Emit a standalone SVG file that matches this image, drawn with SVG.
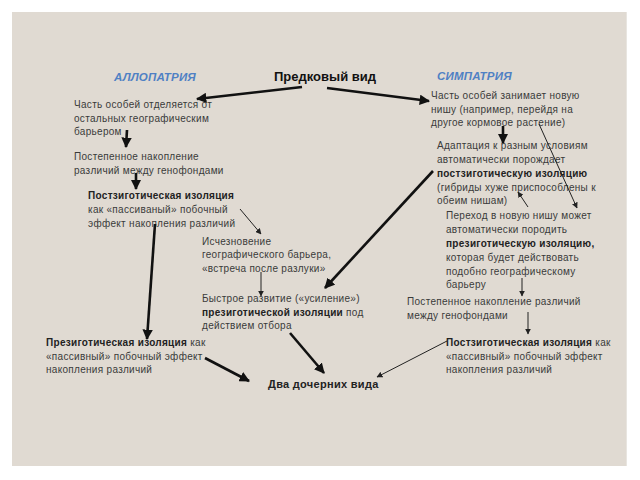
<svg xmlns="http://www.w3.org/2000/svg" width="640" height="480" viewBox="0 0 640 480">
<defs>
<marker id="ah" viewBox="0 0 10 10" refX="9" refY="5" markerWidth="4" markerHeight="4" orient="auto" markerUnits="strokeWidth"><path d="M0,0 L10,5 L0,10 z" fill="#111"/></marker>
<marker id="ahs" viewBox="0 0 10 10" refX="9" refY="5" markerWidth="6" markerHeight="6" orient="auto" markerUnits="strokeWidth"><path d="M0,0 L10,5 L0,10 z" fill="#222"/></marker>
</defs>
<style>
text{font-family:"Liberation Sans",Arial,sans-serif;font-size:10px;fill:#3a3a3a;letter-spacing:0.3px}
.b{font-weight:bold;fill:#222}
.t{font-size:13px;font-weight:bold;fill:#111;letter-spacing:0}
.h{font-size:11.5px;font-weight:bold;font-style:italic;fill:#4f80c4;letter-spacing:0.2px}
.k{stroke:#111;stroke-width:2.6;fill:none;marker-end:url(#ah)}
.n{stroke:#222;stroke-width:1;fill:none;marker-end:url(#ahs)}
</style>
<rect width="640" height="480" fill="#fff"/>
<rect x="12" y="12" width="615" height="454" fill="#e0dad2"/>
<line x1="626.5" y1="12" x2="626.5" y2="466" stroke="#e8e5e0" stroke-width="1"/>

<g id="headers">
<text class="h" x="114" y="81">АЛЛОПАТРИЯ</text>
<text class="h" x="437" y="80">СИМПАТРИЯ</text>
</g>
<g id="ancestor"><text class="t" x="274" y="81">Предковый вид</text></g>

<g id="allo1"><text x="74" y="108">Часть особей отделяется от</text><text x="74" y="122">остальных географическим</text><text x="74" y="135">барьером</text></g>
<g id="allo2"><text x="74" y="160">Постепенное накопление</text><text x="74" y="174">различий между генофондами</text></g>
<g id="allo3"><text class="b" x="88" y="199">Постзиготическая изоляция</text><text x="88" y="213">как «пассиваный» побочный</text><text x="88" y="227">эффект накопления различий</text></g>
<g id="allo4"><text x="202" y="245">Исчезновение</text><text x="202" y="258">географического барьера,</text><text x="202" y="272">«встреча после разлуки»</text></g>
<g id="allo5"><text x="202" y="302">Быстрое развитие («усиление»)</text><text x="202" y="316"><tspan class="b">презиготической изоляции</tspan> под</text><text x="202" y="329">действием отбора</text></g>
<g id="allo6"><text x="46" y="346"><tspan class="b">Презиготическая изоляция</tspan> как</text><text x="46" y="360">«пассивный» побочный эффект</text><text x="46" y="373">накопления различий</text></g>
<g id="daughters"><text class="b" x="268" y="388" style="font-size:11px">Два дочерних вида</text></g>

<g id="sym1"><text x="431" y="99">Часть особей занимает новую</text><text x="431" y="113">нишу (например, перейдя на</text><text x="431" y="126">другое кормовое растение)</text></g>
<g id="sym2"><text x="437" y="149">Адаптация к разным условиям</text><text x="437" y="163">автоматически порождает</text><text class="b" x="437" y="177">постзиготическую изоляцию</text><text x="437" y="191">(гибриды хуже приспособлены к</text><text x="437" y="204">обеим нишам)</text></g>
<g id="sym3"><text x="446" y="219">Переход в новую нишу может</text><text x="446" y="233">автоматически породить</text><text class="b" x="446" y="247">презиготическую изоляцию,</text><text x="446" y="261">которая будет действовать</text><text x="446" y="275">подобно географическому</text><text x="446" y="288">барьеру</text></g>
<g id="sym4"><text x="407" y="305">Постепенное накопление различий</text><text x="407" y="319">между генофондами</text></g>
<g id="sym5"><text x="446" y="346"><tspan class="b">Постзиготическая изоляция</tspan> как</text><text x="446" y="360">«пассивный» побочный эффект</text><text x="446" y="373">накопления различий</text></g>

<g id="connectors">
<line class="k" x1="302" y1="87" x2="197" y2="99"/>
<line class="k" x1="327" y1="88" x2="429" y2="101"/>
<line class="k" x1="127" y1="130" x2="126" y2="147"/>
<line class="k" x1="136" y1="173" x2="136" y2="189"/>
<line class="n" x1="240" y1="209" x2="261" y2="234"/>
<line class="k" x1="155" y1="224" x2="147" y2="339"/>
<line class="n" x1="261" y1="272" x2="261" y2="296"/>
<line class="k" x1="290" y1="333" x2="324" y2="373"/>
<line class="k" x1="205" y1="358" x2="249" y2="381"/>
<line class="n" x1="447" y1="341" x2="377" y2="377"/>
<line class="k" x1="433" y1="171" x2="325" y2="288"/>
<line class="k" x1="503" y1="126" x2="503" y2="143"/>
<line class="n" x1="539" y1="124" x2="577" y2="208"/>
<line class="n" x1="528" y1="207" x2="518" y2="192"/>
<line class="n" x1="522" y1="278" x2="522" y2="296"/>
<line class="n" x1="528" y1="312" x2="528" y2="334"/>
</g>
</svg>
